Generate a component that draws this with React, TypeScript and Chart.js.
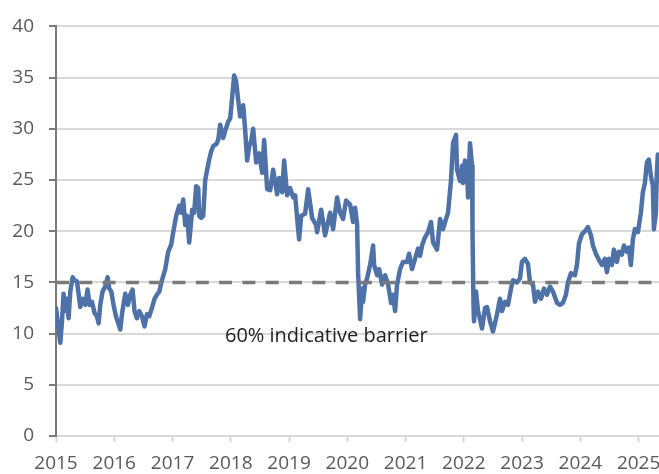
import React, { useEffect, useRef } from "react";
import { Chart, registerables } from "chart.js";

Chart.register(...registerables);

// decimal years
const dates: number[] = [
  2015.0, 2015.074, 2015.103, 2015.13, 2015.148, 2015.189, 2015.216, 2015.245, 2015.285, 2015.319,
  2015.36, 2015.388, 2015.417, 2015.456, 2015.503, 2015.542, 2015.576, 2015.617, 2015.662, 2015.703,
  2015.731, 2015.76, 2015.799, 2015.846, 2015.885, 2015.914, 2015.949, 2015.988, 2016.029, 2016.074,
  2016.103, 2016.132, 2016.189, 2016.235, 2016.274, 2016.314, 2016.348, 2016.389, 2016.429, 2016.475,
  2016.52, 2016.561, 2016.6, 2016.647, 2016.691, 2016.732, 2016.772, 2016.818, 2016.875, 2016.926,
  2016.978, 2017.012, 2017.063, 2017.115, 2017.149, 2017.184, 2017.218, 2017.252, 2017.286, 2017.338,
  2017.372, 2017.406, 2017.441, 2017.458, 2017.492, 2017.527, 2017.561, 2017.595, 2017.63, 2017.664,
  2017.698, 2017.75, 2017.784, 2017.818, 2017.87, 2017.904, 2017.955, 2017.99, 2018.024, 2018.058,
  2018.093, 2018.127, 2018.161, 2018.213, 2018.247, 2018.281, 2018.316, 2018.35, 2018.384, 2018.436,
  2018.487, 2018.539, 2018.573, 2018.624, 2018.676, 2018.727, 2018.796, 2018.83, 2018.882, 2018.916,
  2018.967, 2019.019, 2019.07, 2019.105, 2019.156, 2019.173, 2019.208, 2019.276, 2019.328, 2019.396,
  2019.465, 2019.482, 2019.551, 2019.619, 2019.705, 2019.756, 2019.825, 2019.876, 2019.928, 2019.979,
  2020.048, 2020.099, 2020.134, 2020.168, 2020.185, 2020.22, 2020.254, 2020.271, 2020.305, 2020.34,
  2020.391, 2020.443, 2020.46, 2020.511, 2020.546, 2020.597, 2020.648, 2020.7, 2020.751, 2020.786,
  2020.82, 2020.854, 2020.906, 2020.957, 2021.026, 2021.06, 2021.111, 2021.163, 2021.214, 2021.249,
  2021.283, 2021.334, 2021.386, 2021.437, 2021.472, 2021.54, 2021.592, 2021.643, 2021.695, 2021.729,
  2021.78, 2021.815, 2021.866, 2021.883, 2021.935, 2021.969, 2021.986, 2022.02, 2022.055, 2022.072,
  2022.106, 2022.141, 2022.149, 2022.166, 2022.175, 2022.209, 2022.244, 2022.278, 2022.312, 2022.364,
  2022.398, 2022.45, 2022.501, 2022.57, 2022.621, 2022.655, 2022.707, 2022.758, 2022.81, 2022.844,
  2022.913, 2022.964, 2022.998, 2023.05, 2023.101, 2023.136, 2023.187, 2023.221, 2023.273, 2023.324,
  2023.376, 2023.427, 2023.479, 2023.53, 2023.599, 2023.65, 2023.701, 2023.753, 2023.787, 2023.839,
  2023.907, 2023.942, 2023.976, 2024.027, 2024.079, 2024.13, 2024.182, 2024.216, 2024.267, 2024.319,
  2024.37, 2024.422, 2024.456, 2024.491, 2024.542, 2024.576, 2024.628, 2024.662, 2024.713, 2024.748,
  2024.799, 2024.833, 2024.867, 2024.902, 2024.936, 2024.988, 2025.039, 2025.073, 2025.108, 2025.142,
  2025.176, 2025.211, 2025.245, 2025.262, 2025.296, 2025.313, 2025.33, 2025.345,
];

const values: number[] = [
  12.5, 9.1, 11.2, 13.9, 12.2, 13.4, 11.5, 14.1, 15.5, 15.2,
  15.1, 13.9, 12.6, 13.4, 12.8, 14.3, 12.8, 13.1, 12.0, 11.7,
  11.0, 12.8, 14.1, 14.6, 15.5, 14.4, 14.1, 12.8, 11.7, 10.9,
  10.4, 11.9, 13.9, 12.8, 13.8, 14.3, 12.2, 11.5, 12.2, 11.7,
  10.7, 11.9, 11.7, 12.5, 13.4, 13.8, 14.1, 15.2, 16.3, 18.0,
  18.7, 19.9, 21.5, 22.5, 21.8, 23.1, 20.6, 21.5, 18.9, 22.1,
  21.8, 24.4, 24.2, 21.5, 21.3, 21.5, 25.0, 26.0, 27.0, 27.8,
  28.3, 28.5, 28.9, 30.4, 29.1, 29.8, 30.7, 31.0, 33.1, 35.2,
  34.6, 32.8, 31.2, 32.3, 29.9, 26.9, 28.3, 28.8, 30.0, 26.7,
  27.6, 25.7, 28.9, 24.1, 24.0, 26.0, 23.6, 25.2, 23.8, 26.9,
  23.5, 24.2, 23.3, 23.5, 20.2, 19.2, 21.5, 21.7, 24.1, 21.3,
  20.6, 19.9, 22.1, 19.6, 21.8, 20.2, 23.3, 21.8, 21.2, 23.0,
  22.6, 20.9, 22.3, 20.7, 16.0, 11.4, 14.4, 13.1, 14.8, 15.4,
  16.7, 18.6, 16.7, 15.7, 16.3, 14.8, 15.7, 14.8, 13.0, 13.8,
  12.2, 14.8, 16.3, 17.0, 17.0, 17.8, 16.3, 17.3, 18.3, 17.6,
  18.6, 19.4, 19.9, 20.9, 18.9, 18.2, 21.2, 20.2, 21.2, 21.8,
  25.0, 28.6, 29.4, 26.0, 24.9, 26.4, 24.7, 26.9, 26.4, 23.3,
  28.6, 26.4, 20.0, 12.8, 11.2, 14.1, 12.2, 11.4, 10.5, 12.5,
  12.6, 11.2, 10.2, 11.9, 13.4, 12.2, 13.1, 12.8, 14.4, 15.2,
  15.0, 15.4, 17.0, 17.3, 16.8, 15.0, 14.8, 13.1, 14.1, 13.4,
  14.4, 13.8, 14.6, 14.1, 13.0, 12.8, 13.0, 13.8, 15.0, 15.9,
  15.7, 16.7, 18.8, 19.7, 20.0, 20.4, 19.6, 18.6, 17.8, 17.2,
  16.7, 17.3, 16.0, 17.3, 16.7, 18.2, 17.0, 18.0, 17.7, 18.6,
  18.0, 18.4, 16.7, 19.2, 20.2, 19.9, 21.8, 23.8, 24.7, 26.7,
  27.0, 25.4, 24.4, 20.2, 21.8, 25.7, 27.5, 25.0,
];

const barrierLevel = 15;
const xMin = 2015;
const xMax = 2025.35;
const yMin = 0;
const yMax = 40;
const yStep = 5;
const annotationText = "60% indicative barrier";
const annotationX = 2017.9;
const annotationY = 9.7;

const FONT = "'Open Sans', 'Noto Sans', sans-serif";

export default function App() {
  const ref = useRef<HTMLCanvasElement | null>(null);

  useEffect(() => {
    if (!ref.current) return;
    const annoPlugin = {
      id: "annoText",
      afterDatasetsDraw(chart: any) {
        const { ctx, scales } = chart;
        const x = scales.x.getPixelForValue(annotationX);
        const y = scales.y.getPixelForValue(annotationY);
        ctx.save();
        ctx.font = `20px ${FONT}`;
        ctx.fillStyle = "#1f1f1f";
        ctx.textAlign = "left";
        ctx.textBaseline = "middle";
        ctx.fillText(annotationText, x, y);
        ctx.restore();
      },
    };

    const chart = new Chart(ref.current, {
      type: "line",
      data: {
        datasets: [
          {
            label: "Barrier",
            data: [
              { x: xMin, y: barrierLevel },
              { x: xMax, y: barrierLevel },
            ],
            borderColor: "#7a7a7a",
            borderWidth: 3.5,
            borderDash: [13, 10.3],
            pointRadius: 0,
            fill: false,
          },
          {
            label: "Series",
            data: dates.map((d, i) => ({ x: d, y: values[i] })),
            borderColor: "#4e72a8",
            borderWidth: 4.5,
            pointRadius: 0,
            tension: 0,
            fill: false,
            borderJoinStyle: "round",
            borderCapStyle: "round",
          },
        ],
      },
      options: {
        animation: false,
        responsive: false,
        devicePixelRatio: 1,
        layout: { padding: { top: 22, right: 0, left: 0, bottom: 0 } },
        plugins: { legend: { display: false }, tooltip: { enabled: false } },
        scales: {
          x: {
            type: "linear",
            min: xMin,
            max: xMax,
            afterFit: (s: any) => {
              s.height = 38;
              s.paddingLeft = 0;
              s.paddingRight = 0;
            },
            ticks: {
              stepSize: 1,
              includeBounds: false,
              autoSkip: false,
              maxRotation: 0,
              padding: 10,
              color: "#595959",
              font: { size: 19, family: FONT },
              callback: (v: any) => String(v),
            },
            grid: {
              drawOnChartArea: false,
              drawTicks: true,
              tickLength: 6,
              tickColor: "#d9d9d9",
              tickWidth: 2,
            },
            border: { display: false },
          },
          y: {
            min: yMin,
            max: yMax,
            afterFit: (s: any) => {
              s.width = 56;
            },
            ticks: {
              stepSize: yStep,
              padding: 15,
              color: "#595959",
              font: { size: 19, family: FONT },
            },
            grid: {
              color: "#d9d9d9",
              lineWidth: 2,
              drawTicks: true,
              tickLength: 7,
              tickColor: "#7a7a7a",
              tickWidth: 2,
            },
            border: { display: true, color: "#7a7a7a", width: 2 },
          },
        },
      },
      plugins: [annoPlugin],
    });
    return () => chart.destroy();
  }, []);

  return (
    <div style={{ position: "absolute", left: 0, top: 0, width: 659, height: 474 }}>
      <canvas ref={ref} width={659} height={474} />
    </div>
  );
}
